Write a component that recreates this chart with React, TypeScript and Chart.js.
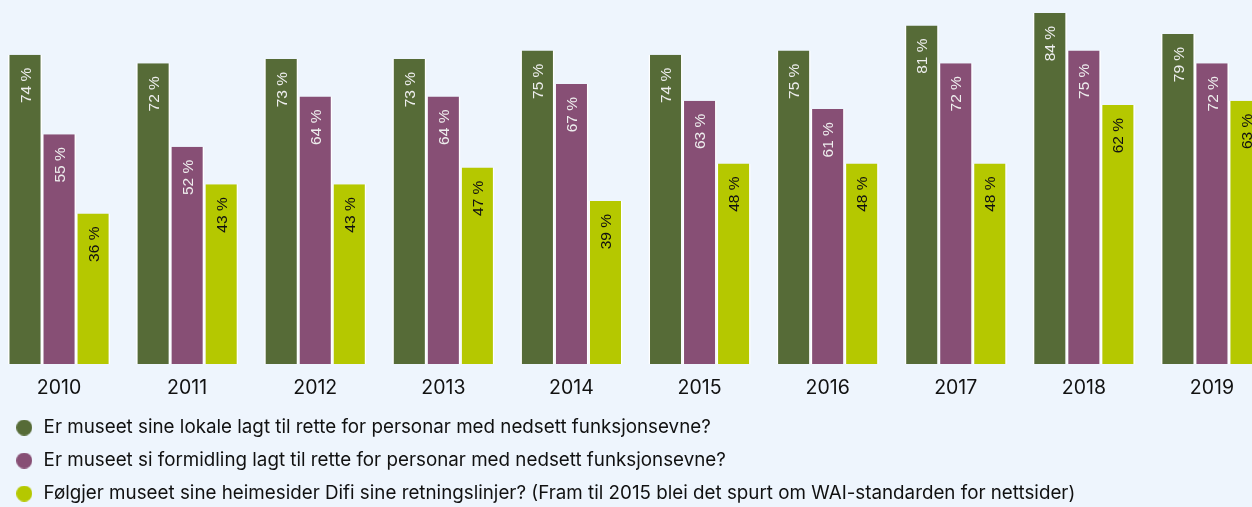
import React, { useEffect, useRef } from "react";
import { Chart, registerables } from "chart.js";

Chart.register(...registerables);

const years = ["2010", "2011", "2012", "2013", "2014", "2015", "2016", "2017", "2018", "2019"];
const lokale = [74, 72, 73, 73, 75, 74, 75, 81, 84, 79];
const formidling = [55, 52, 64, 64, 67, 63, 61, 72, 75, 72];
const heimesider = [36, 43, 43, 47, 39, 48, 48, 48, 62, 63];

const seriesNames = [
  "Er museet sine lokale lagt til rette for personar med nedsett funksjonsevne?",
  "Er museet si formidling lagt til rette for personar med nedsett funksjonsevne?",
  "Følgjer museet sine heimesider Difi sine retningslinjer? (Fram til 2015 blei det spurt om WAI-standarden for nettsider)",
];
const colors = ["#566b37", "#874f75", "#b5c800"];
const labelColors = ["#eeeeee", "#eeeeee", "#111111"];
const BG = "#eef5fd";

const CANVAS_W = 1281;
const CANVAS_H = 507;
const CANVAS_SHIFT = -5;

function circleImage(color: string) {
  const c = document.createElement("canvas");
  c.width = 16;
  c.height = 16;
  const ctx = c.getContext("2d")!;
  ctx.fillStyle = color;
  ctx.beginPath();
  ctx.arc(8, 8, 8, 0, Math.PI * 2);
  ctx.fill();
  return c;
}

const barLabels = {
  id: "barLabels",
  afterDatasetsDraw(chart: any) {
    const ctx = chart.ctx;
    chart.data.datasets.forEach((ds: any, di: number) => {
      const meta = chart.getDatasetMeta(di);
      meta.data.forEach((el: any, i: number) => {
        const v = ds.data[i];
        ctx.save();
        ctx.translate(el.x + 1.3, el.y + 13);
        ctx.rotate(-Math.PI / 2);
        ctx.font = '15.5px "Liberation Sans", Arial, sans-serif';
        ctx.fillStyle = labelColors[di];
        ctx.textAlign = "right";
        ctx.textBaseline = "middle";
        ctx.fillText(`${v} %`, 0, 0);
        ctx.restore();
      });
    });
  },
};

const legendShift = {
  id: "legendShift",
  afterLayout(chart: any) {
    if (chart.legend) {
      chart.legend.left += -CANVAS_SHIFT;
      chart.legend.right += -CANVAS_SHIFT;
    }
  },
};

export default function App() {
  const ref = useRef<HTMLCanvasElement | null>(null);
  useEffect(() => {
    if (!ref.current) return;
    const series = [lokale, formidling, heimesider];
    const chart = new Chart(ref.current, {
      type: "bar",
      data: {
        labels: years,
        datasets: series.map((d, i) => ({
          label: seriesNames[i],
          data: d,
          backgroundColor: colors[i],
          borderColor: "#ffffff",
          borderWidth: { left: 1.5, right: 1.5, top: 0, bottom: 0 },
          categoryPercentage: 102 / 128,
          barPercentage: 1,
        })),
      },
      options: {
        responsive: false,
        animation: false,
        layout: { padding: { left: 0, right: 0, top: 13, bottom: -6 } },
        scales: {
          x: {
            grid: { display: false, drawTicks: false },
            border: { display: false },
            ticks: {
              padding: 12.5,
              color: "#111111",
              font: { family: "Inter, 'Noto Sans', sans-serif", size: 19.5 },
            },
            afterFit: (scale: any) => {
              scale.height = 40;
            },
          },
          y: { display: false, min: 0, max: 84 },
        },
        plugins: {
          tooltip: { enabled: false },
          legend: {
            position: "bottom",
            align: "start",
            labels: {
              usePointStyle: true,
              pointStyleWidth: 20,
              boxHeight: 17,
              padding: 14.2,
              color: "#111111",
              font: { family: "Inter, 'Noto Sans', sans-serif", size: 18.8 },
              generateLabels: (c: any) => {
                const items = Chart.defaults.plugins.legend.labels.generateLabels(c);
                return items.map((it: any, i: number) => ({
                  ...it,
                  pointStyle: circleImage(colors[i]),
                  lineWidth: 0,
                }));
              },
            },
          },
        },
      },
      plugins: [barLabels, legendShift],
    });
    return () => chart.destroy();
  }, []);
  return (
    <div
      style={{
        position: "fixed",
        left: 0,
        top: 0,
        width: 1252,
        height: 507,
        background: BG,
        overflow: "hidden",
      }}
    >
      <canvas
        ref={ref}
        width={CANVAS_W}
        height={CANVAS_H}
        style={{ display: "block", position: "absolute", left: CANVAS_SHIFT, top: 0 }}
      />
    </div>
  );
}
